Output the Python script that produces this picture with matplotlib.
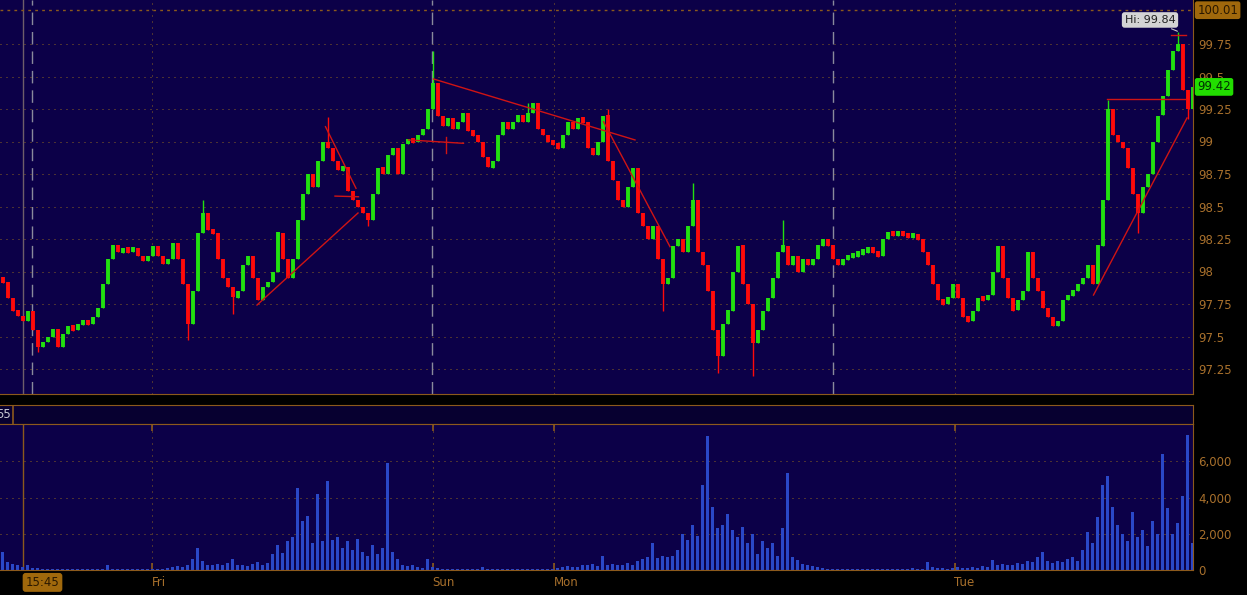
import numpy as np
import matplotlib
matplotlib.use('Agg')
import matplotlib.pyplot as plt
from matplotlib.transforms import blended_transform_factory

# closing prices, one bar per ~5 px of the original chart
closes = [
    97.92, 97.80, 97.70, 97.66, 97.62, 97.70, 97.55, 97.42, 97.46, 97.50,
    97.56, 97.42, 97.52, 97.58, 97.55, 97.60, 97.62, 97.60, 97.65, 97.72,
    97.90, 98.10, 98.20, 98.15, 98.17, 98.16, 98.18, 98.12, 98.08, 98.12,
    98.20, 98.12, 98.06, 98.10, 98.22, 98.10, 97.90, 97.60, 97.85, 98.30,
    98.45, 98.32, 98.30, 98.10, 97.95, 97.88, 97.80, 97.85, 98.05, 98.12,
    97.95, 97.78, 97.88, 97.92, 98.00, 98.30, 98.10, 97.95, 98.10, 98.40,
    98.60, 98.75, 98.65, 98.85, 99.00, 98.95, 98.85, 98.78, 98.80, 98.62,
    98.55, 98.50, 98.45, 98.40, 98.60, 98.80, 98.75, 98.90, 98.95, 98.75,
    98.98, 99.02, 99.00, 99.05, 99.10, 99.25, 99.45, 99.20, 99.12, 99.18,
    99.10, 99.15, 99.22, 99.08, 99.05, 99.00, 98.88, 98.80, 98.85, 99.05,
    99.15, 99.10, 99.15, 99.20, 99.15, 99.22, 99.30, 99.10, 99.05, 99.00,
    98.98, 98.95, 99.05, 99.15, 99.10, 99.18, 99.15, 98.95, 98.90, 99.00,
    99.20, 98.85, 98.70, 98.55, 98.50, 98.65, 98.80, 98.45, 98.35, 98.25,
    98.35, 98.10, 97.90, 97.95, 98.20, 98.25, 98.15, 98.35, 98.55, 98.15,
    98.05, 97.85, 97.55, 97.35, 97.60, 97.70, 98.00, 98.20, 97.90, 97.75,
    97.45, 97.55, 97.70, 97.80, 97.95, 98.15, 98.20, 98.05, 98.12, 98.00,
    98.10, 98.05, 98.10, 98.20, 98.25, 98.20, 98.10, 98.05, 98.10, 98.12,
    98.12, 98.15, 98.15, 98.18, 98.15, 98.12, 98.25, 98.30, 98.28, 98.30,
    98.28, 98.27, 98.28, 98.25, 98.15, 98.05, 97.90, 97.78, 97.75, 97.80,
    97.90, 97.80, 97.65, 97.62, 97.70, 97.80, 97.78, 97.82, 98.00, 98.20,
    97.95, 97.80, 97.70, 97.78, 97.85, 98.15, 97.95, 97.85, 97.72, 97.65,
    97.58, 97.62, 97.78, 97.82, 97.85, 97.90, 97.95, 98.05, 97.90, 98.20,
    98.55, 99.25, 99.05, 99.00, 98.95, 98.80, 98.60, 98.45, 98.65, 98.75,
    99.00, 99.20, 99.35, 99.55, 99.70, 99.75, 99.40, 99.25, 99.42,
]
first_open = 97.95

# wick extremes that stick out beyond the bodies (bar index: price)
hi_spikes = {40: 98.55, 65: 99.19, 86: 99.70, 105: 99.30, 121: 99.25,
             138: 98.68, 156: 98.40, 221: 99.32, 235: 99.84}
lo_spikes = {7: 97.38, 37: 97.47, 46: 97.67, 73: 98.35, 132: 97.70,
             143: 97.22, 150: 97.20, 227: 98.30, 237: 99.17}

volumes = [
    1000, 450, 350, 300, 180, 250, 120, 90, 60, 50,
    40, 70, 40, 30, 50, 40, 60, 40, 30, 60,
    40, 300, 60, 50, 40, 60, 80, 50, 60, 40,
    50, 70, 60, 100, 150, 200, 180, 250, 600, 1200,
    500, 300, 250, 350, 300, 400, 590, 300, 250, 200,
    350, 420, 250, 400, 900, 1380, 950, 1600, 1800, 4500,
    2700, 3000, 1500, 4200, 1600, 4900, 1650, 1800, 1200, 1600,
    1100, 1700, 1000, 800, 1380, 900, 1200, 5900, 1000, 600,
    300, 200, 250, 150, 100, 600, 150, 120, 80, 60,
    60, 80, 50, 60, 60, 50, 150, 80, 60, 50,
    60, 50, 70, 60, 50, 80, 60, 50, 60, 80,
    60, 100, 150, 200, 150, 180, 250, 300, 350, 200,
    770, 300, 350, 250, 300, 400, 300, 500, 600, 700,
    1470, 650, 800, 700, 750, 1100, 2000, 1650, 2500, 1900,
    4700, 7400, 3500, 2300, 2500, 3070, 2200, 1800, 2400, 1500,
    2000, 900, 1600, 1200, 1500, 800, 2300, 5360, 700, 550,
    350, 250, 200, 150, 100, 80, 60, 50, 40, 50,
    40, 60, 50, 40, 80, 60, 50, 40, 60, 50,
    80, 60, 100, 50, 60, 420, 150, 100, 120, 80,
    100, 150, 120, 100, 150, 120, 200, 150, 550, 300,
    350, 250, 300, 400, 350, 500, 450, 700, 970, 500,
    400, 500, 450, 600, 700, 500, 1100, 2100, 1500, 2900,
    4700, 5200, 3500, 2500, 2000, 1600, 3200, 1800, 2200, 1300,
    2700, 2000, 6400, 3400, 2000, 2570, 4100, 7440, 1500,
]

# drawn trend lines: (x0, p0, x1, p1) in bar index / price
trendlines = [
    (50.9, 97.742, 71.1, 98.450),
    (64.6, 99.114, 70.7, 98.640),
    (66.5, 98.580, 71.2, 98.575),
    (86.2, 99.481, 126.5, 99.012),
    (81.2, 99.012, 92.2, 98.986),
    (88.7, 99.035, 88.7, 98.910),
    (120.2, 99.152, 133.5, 98.191),
    (218.2, 97.819, 236.9, 99.181),
    (220.9, 99.327, 236.5, 99.327),
    (233.7, 99.820, 236.7, 99.820),
]

price_ticks = [99.75, 99.5, 99.25, 99.0, 98.75, 98.5, 98.25, 98.0, 97.75, 97.5, 97.25]
price_labels = ['99.75', '99.5', '99.25', '99', '98.75', '98.5', '98.25', '98', '97.75', '97.5', '97.25']
vol_ticks = [0, 2000, 4000, 6000]
vol_labels = ['0', '2,000', '4,000', '6,000']
day_labels = ['Fri', 'Sun', 'Mon', 'Tue']
day_pos = [29.9, 86.0, 110.2, 190.4]
session_breaks = [5.84, 85.96, 166.16]
cursor_pos = 4.16
hi_value = 99.84
last_value = 99.42
top_value = 100.01

BG = '#0c0048'
ORANGE = '#8c5a1c'
TXT = '#a8702c'
GRID = '#8c6420'
GREEN = '#22e010'
RED = '#ff0a0a'
BLUE = '#2a48c8'
DASH = '#8a8a9c'
TREND = '#d01414'

W, H = 1247, 595
fig = plt.figure(figsize=(W / 100, H / 100), dpi=100, facecolor='black')


def box(l, t, r, b):
    return [l / W, 1 - b / H, (r - l) / W, (b - t) / H]


xlim = (-0.5, 1193 / 5 - 0.5)

# ---- price panel
ax = fig.add_axes(box(0, 0, 1193, 394))
ax.set_facecolor(BG)
closes = np.array(closes)
opens = np.r_[first_open, closes[:-1]]
x = np.arange(len(closes))
cols = np.where(closes >= opens, GREEN, RED)
mid = (opens + closes) / 2
half = np.maximum(np.abs(closes - opens) / 2, 0.02)
body_lo = mid - half
body_hi = mid + half
wick_lo = body_lo.copy()
wick_hi = body_hi.copy()
for k, v in hi_spikes.items():
    wick_hi[k] = max(wick_hi[k], v)
for k, v in lo_spikes.items():
    wick_lo[k] = min(wick_lo[k], v)

for p in price_ticks:
    ax.axhline(p, color=GRID, lw=0.72, ls=(0, (1, 5)), zorder=0)
for d in [day_pos[0], day_pos[2], day_pos[3]]:
    ax.axvline(d, color=GRID, lw=0.72, ls=(0, (1, 5)), zorder=0)
for s in session_breaks:
    ax.axvline(s, color=DASH, lw=1.0, ls=(0, (9, 5)), zorder=0.5)
ax.axvline(cursor_pos, color='#6e5e6a', lw=1.0, zorder=0.5)
ax.axhline(top_value, color=ORANGE, lw=1.0, ls=(0, (2, 3)), zorder=0.5)

ax.vlines(x, wick_lo, wick_hi, colors=cols, lw=1.0, zorder=2)
ax.vlines(x, body_lo, body_hi, colors=cols, lw=2.8, zorder=2)

for x0, p0, x1, p1 in trendlines:
    ax.plot([x0, x1], [p0, p1], color=TREND, lw=1.0, zorder=3)

ax.set_xlim(*xlim)
ax.set_ylim(99.75 - 350 / 130, 99.75 + 44 / 130)
ax.yaxis.tick_right()
ax.set_yticks(price_ticks)
ax.set_yticklabels(price_labels)
ax.tick_params(axis='y', length=0, pad=4, labelcolor=TXT, labelsize=8.5)
ax.set_xticks([])
for sp in ['left', 'top']:
    ax.spines[sp].set_visible(False)
for sp in ['right', 'bottom']:
    ax.spines[sp].set_color(ORANGE)

# value flags on the right
ytr = blended_transform_factory(ax.transAxes, ax.transData)
ax.text(1.0035, top_value, f'{top_value:.2f}', transform=ytr,
        ha='left', va='center', fontsize=8.5, color='#2a1800',
        bbox=dict(boxstyle='round,pad=0.2', fc='#a0680c', ec='none'))
ax.text(1.0035, last_value, f'{last_value:.2f}', transform=ytr,
        ha='left', va='center', fontsize=8.5, color='#003000',
        bbox=dict(boxstyle='round,pad=0.2', fc='#22dd00', ec='none'))
ax.annotate(f'Hi: {hi_value:.2f}', xy=(235.5, hi_value), xytext=(229.5, 99.935),
            ha='center', va='center', fontsize=8, color='#202020',
            bbox=dict(boxstyle='round,pad=0.25', fc='#d4d4d4', ec='none'),
            arrowprops=dict(arrowstyle='-', color='#c8c8c8', lw=0.8), zorder=5)

# ---- small header strip
hs = fig.add_axes(box(0, 405, 1193, 424))
hs.set_facecolor('#070030')
hs.set_xticks([])
hs.set_yticks([])
for sp in hs.spines.values():
    sp.set_color(ORANGE)
hs.spines['left'].set_visible(False)
hs.axvline(13 / 1193, color=ORANGE, lw=1.2)
hs.text(11 / 1193, 0.5, '55', ha='right', va='center', fontsize=8.5, color='#c8c8d4', transform=hs.transAxes)

# ---- volume panel
av = fig.add_axes(box(0, 424, 1193, 570))
av.set_facecolor(BG)
for v in vol_ticks[1:]:
    av.axhline(v, color=GRID, lw=0.72, ls=(0, (1, 5)), zorder=0)
for d in day_pos:
    av.axvline(d, color=GRID, lw=0.72, ls=(0, (1, 5)), zorder=0)
av.axvline(cursor_pos, color=ORANGE, lw=1.0, zorder=0.5)
av.bar(x, volumes, width=0.55, color=BLUE, zorder=2)
av.set_xlim(*xlim)
av.set_ylim(0, 146 / 18.12 * 1000)
av.yaxis.tick_right()
av.set_yticks(vol_ticks)
av.set_yticklabels(vol_labels)
av.tick_params(axis='y', length=0, pad=4, labelcolor=TXT, labelsize=8.5)
av.set_xticks(day_pos)
av.set_xticklabels([])
av.tick_params(axis='x', direction='in', top=True, bottom=True, length=5, color=ORANGE, width=1.2)
av.spines['left'].set_visible(False)
for sp in ['right', 'top', 'bottom']:
    av.spines[sp].set_color(ORANGE)

tr = blended_transform_factory(av.transData, av.transAxes)
for d, lab in zip(day_pos, day_labels):
    av.text(d, -0.085, lab, transform=tr, ha='left', va='center', fontsize=8.5, color=TXT)
av.text(8.0, -0.085, '15:45', transform=tr, ha='center', va='center', fontsize=8.5, color='#2a1800',
        bbox=dict(boxstyle='round,pad=0.25', fc='#a0680c', ec='none'))

fig.savefig('out.png', dpi=100, facecolor='black')
